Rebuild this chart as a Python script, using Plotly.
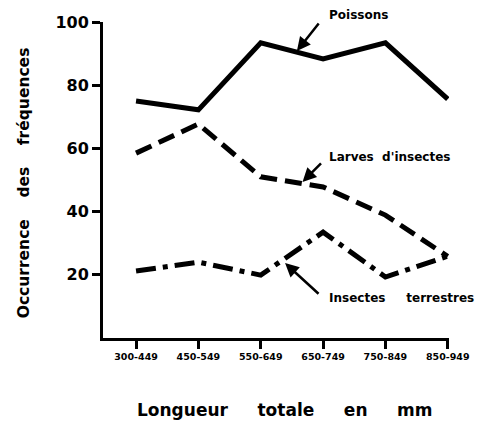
import plotly.graph_objects as go

categories = ["300-449", "450-549", "550-649", "650-749", "750-849", "850-949"]
poissons = [75.0, 72.2, 93.4, 88.3, 93.4, 75.6]
larves = [58.5, 67.7, 51.0, 47.8, 38.9, 25.8]
terrestres = [21.2, 24.0, 19.9, 33.5, 19.3, 25.9]
y_ticks = [20, 40, 60, 80, 100]

xpos = list(range(len(categories)))
FONT = "DejaVu Sans"

fig = go.Figure()
fig.add_trace(go.Scatter(x=xpos, y=poissons, mode="lines",
                         line=dict(color="black", width=5), showlegend=False))
fig.add_trace(go.Scatter(x=xpos, y=larves, mode="lines",
                         line=dict(color="black", width=5, dash="17px,8px"), showlegend=False))
fig.add_trace(go.Scatter(x=xpos, y=terrestres, mode="lines",
                         line=dict(color="black", width=5, dash="20px,7px,5px,7px"), showlegend=False))

ann_font = dict(family=FONT, size=12, color="black")
arrows = [
    dict(x=2.58, y=90.8, ax=23, ay=-29, label="Poissons", xs=30, ys=36),
    dict(x=2.67, y=49.4, ax=20, ay=-20, label="Larves  d'insectes", xs=24, ys=25),
    dict(x=2.39, y=23.7, ax=35, ay=32, label="Insectes     terrestres", xs=42, ys=-35),
]
for a in arrows:
    fig.add_annotation(x=a["x"], y=a["y"], xref="x", yref="y", ax=a["ax"], ay=a["ay"],
                       axref="pixel", ayref="pixel", text="", showarrow=True,
                       arrowhead=2, arrowsize=1.1, arrowwidth=2.5, arrowcolor="black")
    fig.add_annotation(x=a["x"], y=a["y"], xref="x", yref="y", text="<b>%s</b>" % a["label"],
                       showarrow=False, xanchor="left", yanchor="middle",
                       xshift=a["xs"], yshift=a["ys"], font=ann_font)

fig.add_annotation(x=0.527, y=-0.228, xref="paper", yref="paper",
                   text="<b>Longueur     totale     en     mm</b>", showarrow=False,
                   xanchor="center", yanchor="middle", font=dict(family=FONT, size=17))
fig.add_annotation(x=-0.228, y=0.49, xref="paper", yref="paper", textangle=-90,
                   text="<b>Occurrence    des    fréquences</b>", showarrow=False,
                   xanchor="center", yanchor="middle", font=dict(family=FONT, size=15.5))

fig.update_layout(
    width=482, height=423,
    margin=dict(l=103, r=24, t=22, b=85),
    plot_bgcolor="white", paper_bgcolor="white",
    font=dict(family=FONT, color="black"),
    xaxis=dict(range=[-0.53, 5.02], tickmode="array", tickvals=xpos,
               ticktext=["<b>%s</b>" % c for c in categories],
               tickfont=dict(family=FONT, size=9.5),
               showline=True, linecolor="black", linewidth=3,
               ticks="outside", ticklen=8, tickwidth=2.5, tickcolor="black",
               showgrid=False, zeroline=False),
    yaxis=dict(range=[0, 100], tickvals=y_ticks,
               ticktext=["<b>%d</b>" % v for v in y_ticks],
               tickfont=dict(family=FONT, size=16),
               showline=True, linecolor="black", linewidth=3,
               ticks="outside", ticklen=8, tickwidth=2.5, tickcolor="black",
               showgrid=False, zeroline=False),
)

fig.write_html("out.html", config={"displayModeBar": False},
               post_script="document.body.style.margin='0';document.body.style.overflow='hidden';")
